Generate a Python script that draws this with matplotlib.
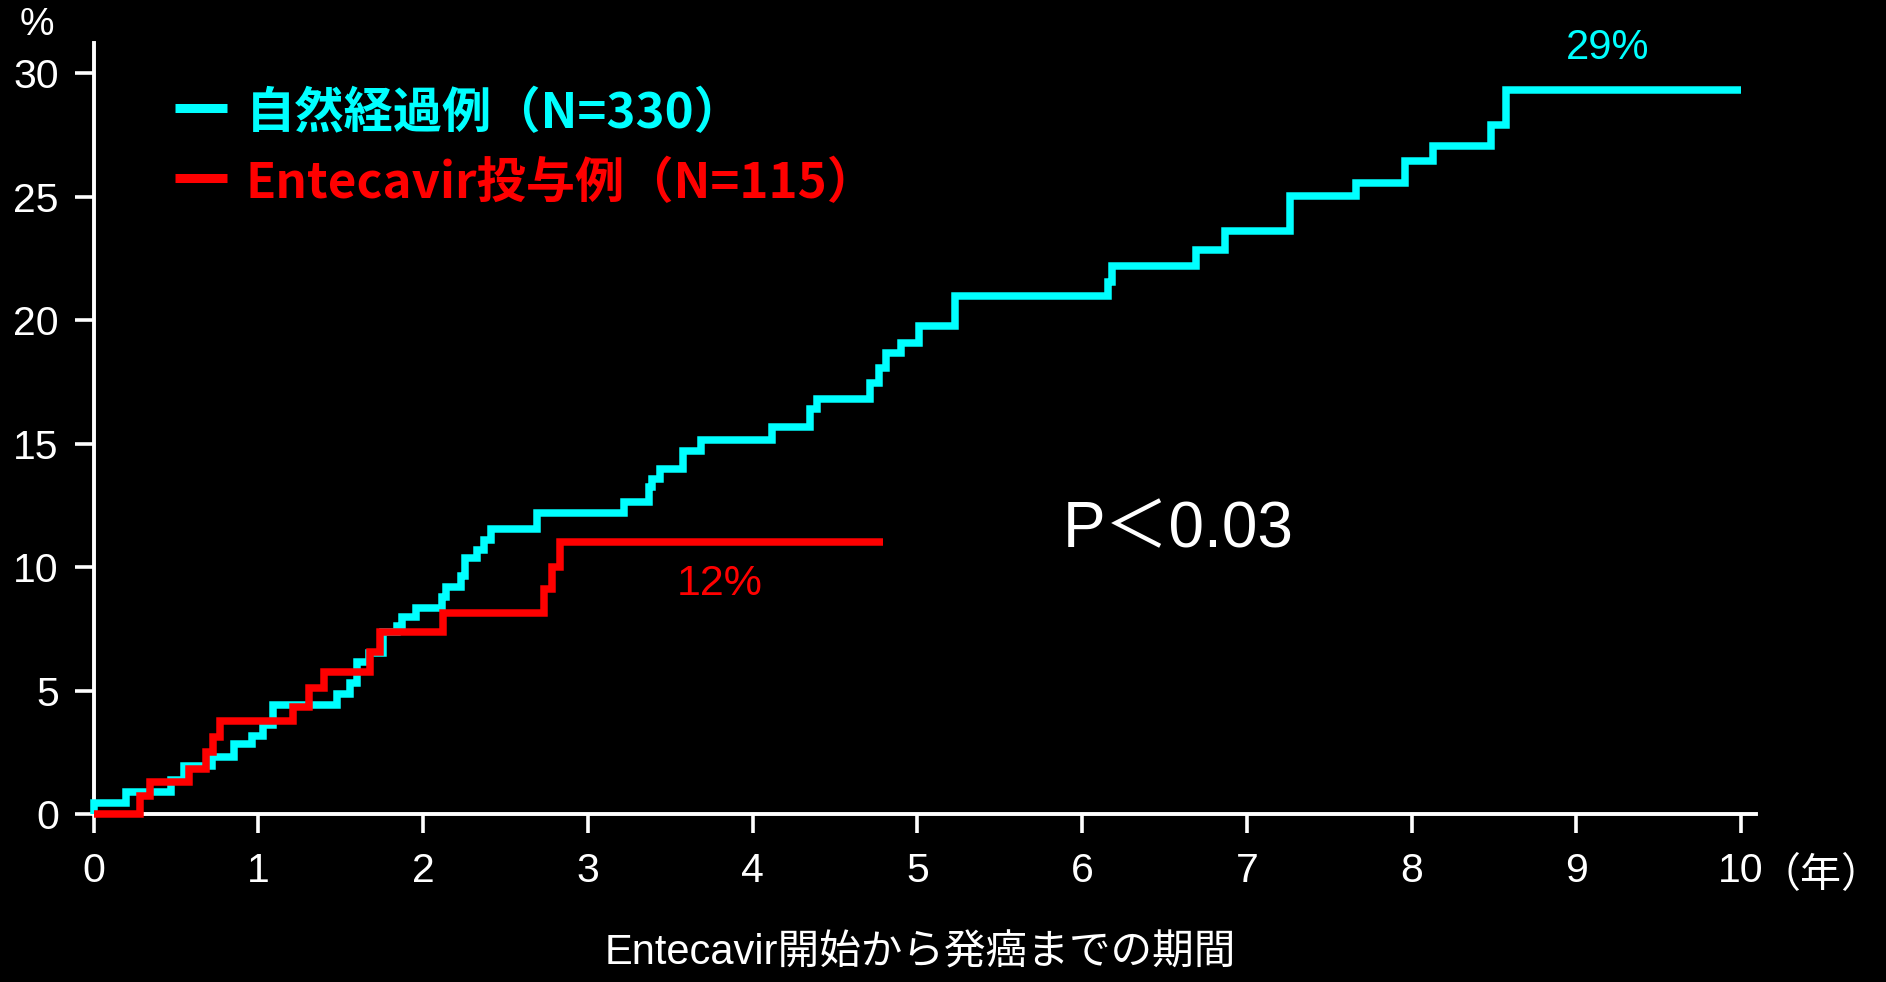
import matplotlib
matplotlib.use("Agg")
import matplotlib.pyplot as plt
from matplotlib.lines import Line2D

# ---------------- data ----------------
# cumulative HCC incidence (%), Kaplan-Meier style step curves
natural_times = [0, 0, 0.20, 0.47, 0.55, 0.72, 0.85, 0.96, 1.03, 1.09, 1.48, 1.555,
                 1.60, 1.67, 1.76, 1.84, 1.87, 1.96, 2.115, 2.14, 2.23, 2.255, 2.33,
                 2.37, 2.41, 2.69, 3.22, 3.37, 3.39, 3.44, 3.58, 3.69, 4.12, 4.35,
                 4.39, 4.71, 4.77, 4.81, 4.90, 5.01, 5.23, 6.155, 6.18, 6.69, 6.87,
                 7.26, 7.66, 7.96, 8.13, 8.48, 8.57, 10.0]
natural_values = [0, 0.45, 0.88, 1.38, 1.94, 2.31, 2.82, 3.17, 3.60, 4.41, 4.86, 5.29,
                  6.14, 6.50, 7.38, 7.62, 7.99, 8.34, 8.80, 9.19, 9.65, 10.35, 10.70,
                  11.10, 11.55, 12.19, 12.63, 13.25, 13.58, 13.98, 14.70, 15.14, 15.67,
                  16.38, 16.81, 17.44, 18.05, 18.66, 19.07, 19.77, 20.98, 21.54, 22.20,
                  22.83, 23.62, 25.02, 25.55, 26.42, 27.03, 27.91, 29.31, 29.31]

etv_times = [0, 0.28, 0.34, 0.58, 0.68, 0.725, 0.77, 1.21, 1.31, 1.40, 1.68, 1.74,
             2.12, 2.735, 2.78, 2.83, 4.79]
etv_values = [0, 0.73, 1.28, 1.82, 2.50, 3.13, 3.77, 4.35, 5.09, 5.76, 6.57, 7.38,
              8.15, 9.10, 10.00, 11.01, 11.01]

series_labels = ["自然経過例（N=330）", "Entecavir投与例（N=115）"]
series_colors = ["#00FFFF", "#FF0000"]

x_ticks = list(range(0, 11))
y_ticks = [0, 5, 10, 15, 20, 25, 30]

x_axis_title = "Entecavir開始から発癌までの期間"
x_unit = "（年）"
y_unit = "%"
p_text = "P＜0.03"
end_labels = ["29%", "12%"]

# ---------------- figure ----------------
W, H = 1886, 982
fig = plt.figure(figsize=(W / 100, H / 100), dpi=100, facecolor="black")

def fx(px):
    return px / W

def fy(py):
    return 1 - py / H

x0, x1 = 93.5, 1756
y0, y1 = 814, 42.7
ax = fig.add_axes([fx(x0), fy(y0), fx(x1) - fx(x0), fy(y1) - fy(y0)])
ax.set_facecolor("black")
ax.set_xlim(0, 10.09)
ax.set_ylim(0, 31.23)

for s in ["top", "right"]:
    ax.spines[s].set_visible(False)
for s in ["left", "bottom"]:
    ax.spines[s].set_color("white")
    ax.spines[s].set_linewidth(2.8)

num_font = "Liberation Sans"
ax.set_xticks(x_ticks)
ax.set_yticks(y_ticks)
ax.set_xticklabels([str(t) for t in x_ticks], fontfamily=num_font, fontsize=29.5, color="white")
ax.set_yticklabels([str(t) for t in y_ticks], fontfamily=num_font, fontsize=29.5, color="white")
ax.tick_params(axis="both", direction="out", length=14, width=2.6, color="white")
ax.tick_params(axis="x", pad=13)
ax.tick_params(axis="y", pad=11)

# curves
ax.step(natural_times, natural_values, where="post", color=series_colors[0],
        linewidth=5.4, zorder=3, clip_on=False, solid_joinstyle="miter",
        solid_capstyle="butt")
ax.step(etv_times, etv_values, where="post", color=series_colors[1],
        linewidth=5.4, zorder=4, clip_on=False, solid_joinstyle="miter",
        solid_capstyle="butt")

# annotations
ax.text(9.19, 31.03, end_labels[0], color=series_colors[0], fontsize=30,
        fontfamily=num_font, ha="center", va="center")
ax.text(3.80, 9.30, end_labels[1], color=series_colors[1], fontsize=31,
        fontfamily=num_font, ha="center", va="center")
ax.text(5.88, 11.48, p_text, color="white", fontsize=46,
        fontfamily=[num_font, "Noto Sans CJK JP"], ha="left", va="center")

# legend (manual)
leg_rows = [107.5, 178]
for lbl, col, yy in zip(series_labels, series_colors, leg_rows):
    fig.add_artist(Line2D([fx(175), fx(227)], [fy(yy), fy(yy)], color=col,
                          linewidth=6.5, solid_capstyle="butt",
                          transform=fig.transFigure))
    fig.text(fx(246), fy(yy + 6), lbl, color=col, fontsize=35.5, fontweight="bold",
             fontfamily=["Noto Sans CJK JP"], ha="left", va="center")

# axis texts
fig.text(fx(37), fy(25), y_unit, color="white", fontsize=28, fontfamily=num_font,
         ha="center", va="center")
fig.text(fx(1760), fy(876), x_unit, color="white", fontsize=29.5,
         fontfamily=["Noto Sans CJK JP"], ha="left", va="center")
fig.text(fx(920), fy(953), x_axis_title, color="white", fontsize=30,
         fontfamily=[num_font, "Noto Sans CJK JP"], ha="center", va="center")

fig.savefig("out.png", dpi=100, facecolor="black")
